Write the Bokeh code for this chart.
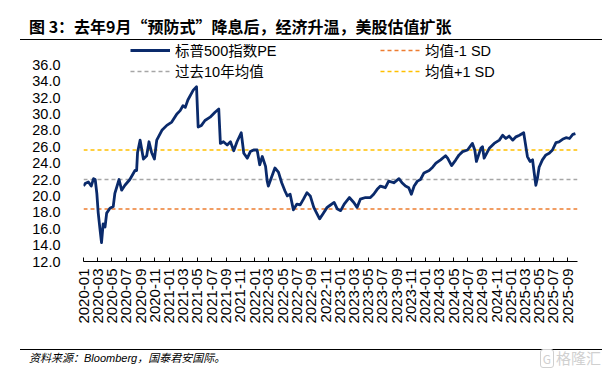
import math
import pandas as pd
from bokeh.plotting import figure
from bokeh.models import (ColumnDataSource, Range1d, FixedTicker, DatetimeTickFormatter,
                          NumeralTickFormatter, Legend, LegendItem, Div)
from bokeh.layouts import column
from bokeh.embed import file_html
from bokeh.resources import INLINE

# ---------------- data ----------------
pe_dates = [
    "2020-01-01", "2020-01-08", "2020-01-22", "2020-02-03", "2020-02-13", "2020-02-20", "2020-02-27",
    "2020-03-04", "2020-03-12", "2020-03-18", "2020-03-25", "2020-04-02", "2020-04-09", "2020-04-23",
    "2020-05-07", "2020-05-14", "2020-06-01", "2020-06-12", "2020-06-26", "2020-07-17", "2020-08-08",
    "2020-08-15", "2020-08-19", "2020-08-30", "2020-09-13", "2020-09-27", "2020-10-07", "2020-10-18",
    "2020-10-30", "2020-11-09", "2020-12-01", "2020-12-22", "2021-01-12", "2021-02-03", "2021-02-17",
    "2021-03-01", "2021-03-11", "2021-03-22", "2021-04-14", "2021-04-28", "2021-05-05", "2021-05-19",
    "2021-06-03", "2021-06-25", "2021-07-16", "2021-08-01", "2021-08-08", "2021-08-21", "2021-09-06",
    "2021-09-20", "2021-10-04", "2021-10-18", "2021-11-05", "2021-11-16", "2021-12-01", "2021-12-14",
    "2021-12-28", "2022-01-12", "2022-01-23", "2022-02-03", "2022-02-17", "2022-02-24", "2022-03-01",
    "2022-03-11", "2022-03-29", "2022-04-13", "2022-04-27", "2022-05-11", "2022-05-21", "2022-06-02",
    "2022-06-16", "2022-07-01", "2022-07-15", "2022-07-29", "2022-08-13", "2022-08-27", "2022-09-11",
    "2022-09-25", "2022-10-06", "2022-10-20", "2022-11-07", "2022-11-17", "2022-12-07", "2022-12-21",
    "2023-01-04", "2023-01-19", "2023-02-10", "2023-03-01", "2023-03-15", "2023-03-29", "2023-04-20",
    "2023-05-11", "2023-05-25", "2023-06-09", "2023-06-23", "2023-07-14", "2023-07-28", "2023-08-19",
    "2023-09-10", "2023-09-23", "2023-10-08", "2023-10-22", "2023-11-02", "2023-11-14", "2023-11-28",
    "2023-12-11", "2023-12-26", "2024-01-17", "2024-02-01", "2024-02-15", "2024-03-06", "2024-03-27",
    "2024-04-05", "2024-04-22", "2024-05-10", "2024-05-24", "2024-06-08", "2024-06-29", "2024-07-20",
    "2024-07-30", "2024-08-06", "2024-08-25", "2024-09-01", "2024-09-08", "2024-09-30", "2024-10-21",
    "2024-11-12", "2024-11-26", "2024-12-10", "2024-12-24", "2025-01-08", "2025-01-22", "2025-02-06",
    "2025-02-24", "2025-03-01", "2025-03-12", "2025-03-23", "2025-04-03", "2025-04-10", "2025-04-17",
    "2025-04-24", "2025-05-01", "2025-05-15", "2025-05-30", "2025-06-13", "2025-06-27", "2025-07-12",
    "2025-07-25", "2025-08-09", "2025-08-24", "2025-09-08", "2025-09-22", "2025-10-03",
]
pe_values = [
    21.2, 21.5, 21.7, 21.2, 22.1, 22.0, 20.3,
    17.9, 15.8, 14.3, 16.6, 16.2, 17.9, 18.5,
    18.7, 20.3, 22.0, 20.7, 21.3, 22.0, 23.1,
    23.1, 25.3, 26.8, 24.5, 24.9, 26.6, 25.3,
    24.5, 26.8, 28.0, 28.6, 29.0, 30.0, 30.4,
    31.0, 30.8, 31.7, 32.9, 33.3, 28.4, 28.6,
    29.2, 29.6, 30.2, 30.6, 26.4, 26.6, 26.2,
    26.6, 25.5, 26.6, 27.7, 25.2, 24.6, 25.4,
    25.6, 25.6, 23.8, 24.8, 23.6, 21.8, 21.2,
    22.0, 23.4, 22.9, 21.6, 20.6, 20.0, 20.2,
    18.3, 19.0, 18.9, 19.6, 20.4, 20.0, 18.6,
    17.8, 17.2, 17.8, 18.6, 18.8, 19.2, 18.4,
    18.2, 19.0, 19.8, 19.2, 18.6, 19.6, 19.8,
    19.8, 20.2, 20.8, 21.2, 21.0, 21.8, 21.6,
    22.1, 21.6, 21.2, 21.0, 20.2, 21.2, 21.8,
    22.0, 22.8, 23.1, 23.5, 24.0, 24.4, 24.9,
    24.6, 23.7, 24.4, 25.0, 25.4, 25.6, 26.4,
    25.6, 24.2, 25.8, 26.0, 24.6, 25.8, 26.4,
    26.8, 27.4, 27.0, 27.3, 26.8, 27.2, 27.4,
    27.7, 26.8, 24.8, 24.2, 24.4, 22.8, 21.3,
    22.2, 23.5, 24.4, 25.0, 25.2, 25.6, 26.5,
    26.6, 26.9, 27.1, 27.0, 27.5, 27.6,
]
mean_10y = 22.0
mean_minus_1sd = 18.4
mean_plus_1sd = 25.6

x_start = "2020-01-01"
x_end = "2025-10-12"
x_tick_labels = [
    "2020-01", "2020-03", "2020-05", "2020-07", "2020-09", "2020-11",
    "2021-01", "2021-03", "2021-05", "2021-07", "2021-09", "2021-11",
    "2022-01", "2022-03", "2022-05", "2022-07", "2022-09", "2022-11",
    "2023-01", "2023-03", "2023-05", "2023-07", "2023-09", "2023-11",
    "2024-01", "2024-03", "2024-05", "2024-07", "2024-09", "2024-11",
    "2025-01", "2025-03", "2025-05", "2025-07", "2025-09",
]
y_ticks = [12, 14, 16, 18, 20, 22, 24, 26, 28, 30, 32, 34, 36]

title_text = "图 3：去年9月“预防式”降息后，经济升温，美股估值扩张"
source_text = "资料来源：Bloomberg，国泰君安国际。"
watermark_text = "格隆汇"
series_names = ["标普500指数PE", "过去10年均值", "均值-1 SD", "均值+1 SD"]

# ---------------- styling / layout ----------------
FONT = "Liberation Sans, Noto Sans CJK SC"
NAVY = "#0A2A6B"
GRAY = "#A6A6A6"
ORANGE = "#ED7D31"
YELLOW = "#FFC000"
W = 604
TITLE_H, MAIN_H, FOOT_H = 41, 299, 30
F_LEFT, F_RIGHT, F_TOP, F_BOTTOM = 83, 577, 44, 261     # frame edges in page pixels


def to_ms(s):
    return (pd.Timestamp(s) - pd.Timestamp("1970-01-01")) // pd.Timedelta("1ms")


# ---- title block ----
title_html = (
    '<div style="margin-left:20px;width:582px;height:40px;box-sizing:border-box;'
    'border-bottom:1.2px solid #000;padding:16px 0 0 9px;'
    "font-family:'Noto Sans CJK SC';font-weight:bold;font-size:16px;line-height:20px;"
    'color:#000;white-space:nowrap;">' + title_text + '</div>'
)
title_div = Div(text=title_html, width=W, height=TITLE_H, margin=(0, 0, 0, 0))

# ---- main chart ----
x0 = pd.Timestamp(x_start).to_pydatetime()
x1 = pd.Timestamp(x_end).to_pydatetime()
top_border = F_TOP - TITLE_H
frame_h = F_BOTTOM - F_TOP
p = figure(width=W, height=MAIN_H, x_axis_type="datetime",
           x_range=Range1d(x0, x1),
           y_range=Range1d(12, 12 + frame_h / 8.2),
           min_border_left=F_LEFT, min_border_right=W - F_RIGHT,
           min_border_top=top_border, min_border_bottom=MAIN_H - top_border - frame_h,
           toolbar_location=None, output_backend="svg", margin=(0, 0, 0, 0))
p.outline_line_color = None
p.grid.visible = False

hx = [x0, x1]
r_lo = p.line(hx, [mean_minus_1sd] * 2, line_color=ORANGE, line_width=1.5, line_dash="4 3")
r_mean = p.line(hx, [mean_10y] * 2, line_color=GRAY, line_width=1.5, line_dash="4 3")
r_hi = p.line(hx, [mean_plus_1sd] * 2, line_color=YELLOW, line_width=1.5, line_dash="4 3")

src = ColumnDataSource(dict(d=pd.to_datetime(pe_dates), v=pe_values))
r_pe = p.line("d", "v", source=src, line_color=NAVY, line_width=2.8, line_join="round")

xa = p.xaxis[0]
xa.ticker = FixedTicker(ticks=[to_ms(t + "-01") for t in x_tick_labels])
fmt = "%Y-%m"
xa.formatter = DatetimeTickFormatter(milliseconds=fmt, seconds=fmt, minsec=fmt, minutes=fmt,
                                     hourmin=fmt, hours=fmt, days=fmt, months=fmt, years=fmt)
xa.major_label_orientation = math.pi / 2
xa.major_label_text_font = FONT
xa.major_label_text_font_size = "15px"
xa.major_label_text_color = "#000000"
xa.major_label_standoff = 7
xa.major_tick_in = 4
xa.major_tick_out = 0
xa.minor_tick_line_color = None
xa.axis_line_color = "#000000"
xa.major_tick_line_color = "#000000"

ya = p.yaxis[0]
ya.ticker = FixedTicker(ticks=y_ticks)
ya.formatter = NumeralTickFormatter(format="0.0")
ya.major_label_text_font = FONT
ya.major_label_text_font_size = "14.5px"
ya.major_label_text_color = "#000000"
ya.axis_line_color = None
ya.major_tick_line_color = None
ya.minor_tick_line_color = None
ya.major_label_standoff = 17


def make_legend(items, loc):
    lg = Legend(items=items, location=loc, orientation="vertical",
                label_text_font=FONT, label_text_font_size="14.5px", label_text_color="#000000",
                glyph_width=40, glyph_height=20, label_height=20, label_standoff=5,
                spacing=-2, padding=0, margin=0, border_line_color=None,
                background_fill_alpha=0)
    p.add_layout(lg)


make_legend([LegendItem(label=series_names[0], renderers=[r_pe]),
             LegendItem(label=series_names[1], renderers=[r_mean])], (130 - F_LEFT, 180))
make_legend([LegendItem(label=series_names[2], renderers=[r_lo]),
             LegendItem(label=series_names[3], renderers=[r_hi])], (380 - F_LEFT, 180))

# ---- footer block ----
foot_html = (
    '<div style="margin-left:20px;width:582px;height:10px;box-sizing:border-box;'
    'border-bottom:1.2px solid #000;"></div>'
    '<div style="margin-left:29px;width:572px;height:16px;display:flex;'
    'justify-content:space-between;align-items:center;line-height:16px;white-space:nowrap;">'
    "<span style=\"font-family:'Liberation Sans','Noto Sans CJK SC';font-style:italic;"
    'font-size:11px;color:#000;">' + source_text + '</span>'
    "<span style=\"font-family:'Noto Sans CJK SC';font-size:15px;color:#D0D0D0;\">"
    '<span style="border:1.5px solid #D0D0D0;border-radius:3px;padding:0 2px;margin-right:2px;'
    'font-size:12px;">G</span>' + watermark_text + '</span>'
    '</div>'
)
foot_div = Div(text=foot_html, width=W, height=FOOT_H, margin=(0, 0, 0, 0))

layout = column(title_div, p, foot_div, spacing=0)
open("out.html", "w").write(file_html(layout, INLINE))
